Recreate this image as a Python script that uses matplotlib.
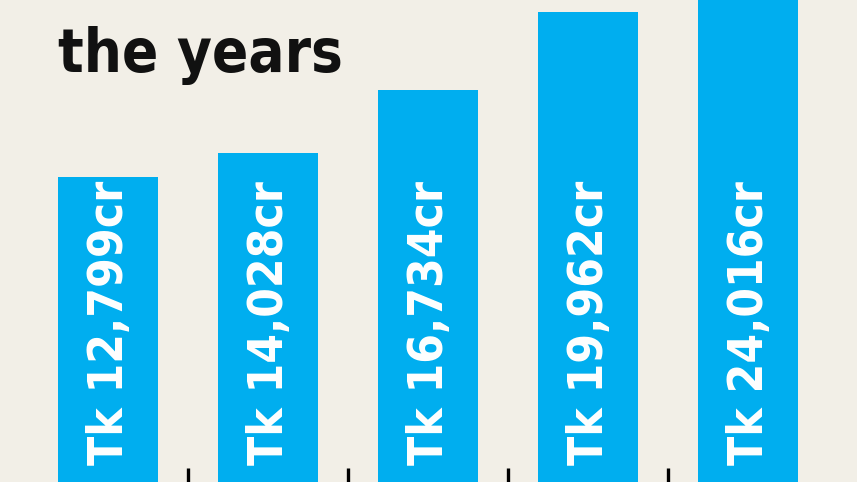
import matplotlib
matplotlib.use("Agg")
import matplotlib.pyplot as plt
from matplotlib import font_manager

# values shown on the bars (Tk crore) and bar heights as drawn in the graphic
labels = ["Tk 12,799cr", "Tk 14,028cr", "Tk 16,734cr", "Tk 19,962cr", "Tk 24,016cr"]
heights = [305, 329, 392, 470, 560]
title = "the years"

bg = "#f2efe7"
blue = "#00aeef"


def narrow_bold_font():
    # look for an installed condensed / narrow bold face
    best = None
    for f in font_manager.fontManager.ttflist:
        name = (f.name + " " + f.fname).lower()
        narrow = ("condensed" in name or "narrow" in name
                  or str(f.stretch) in ("condensed", "semi-condensed",
                                        "extra-condensed", "ultra-condensed"))
        w = f.weight if isinstance(f.weight, int) else 400
        if narrow and w >= 600 and "mono" not in name and "cjk" not in name:
            score = 0 if "semi" not in name else 1
            if best is None or score < best[0]:
                best = (score, f.fname)
    if best:
        return font_manager.FontProperties(fname=best[1])
    return font_manager.FontProperties(family="DejaVu Sans", weight="bold")


fp = narrow_bold_font()

fig = plt.figure(figsize=(8.57, 4.82), dpi=100, facecolor=bg)
ax = fig.add_axes([0, 0, 1, 1])
ax.set_facecolor(bg)

x = list(range(len(heights)))
ax.bar(x, heights, width=0.63, color=blue, zorder=2)

ax.set_xlim(-108 / 160, (857 - 108) / 160)
ax.set_ylim(0, 482)

renderer = fig.canvas.get_renderer()


def fit_size(text, target_px, start):
    t = fig.text(0, 0, text, fontproperties=fp, fontsize=start)
    w = t.get_window_extent(renderer).width
    t.remove()
    return start * target_px / w


lab_size = min(fit_size(labels[0], 284, 40), 49)
title_size = min(fit_size(title, 285, 50), 60)

# rotated labels inside bars, anchored near the bottom
for xi, lab in zip(x, labels):
    ax.text(xi + 0.012, 17, lab, rotation=90, rotation_mode='anchor',
            ha='left', va='center', color='white', fontproperties=fp,
            fontsize=lab_size, zorder=3)

# separator ticks between bars
ax.set_xticks([0.5, 1.5, 2.5, 3.5])
ax.tick_params(axis='x', direction='in', length=10, width=2.4, color='black',
               labelbottom=False)
ax.set_yticks([])
for s in ax.spines.values():
    s.set_visible(False)

fig.text(58 / 857, 1 - 72 / 482, title, fontproperties=fp, fontsize=title_size,
         color='#111111', ha='left', va='baseline')

fig.savefig("out.png", dpi=100, facecolor=bg)
